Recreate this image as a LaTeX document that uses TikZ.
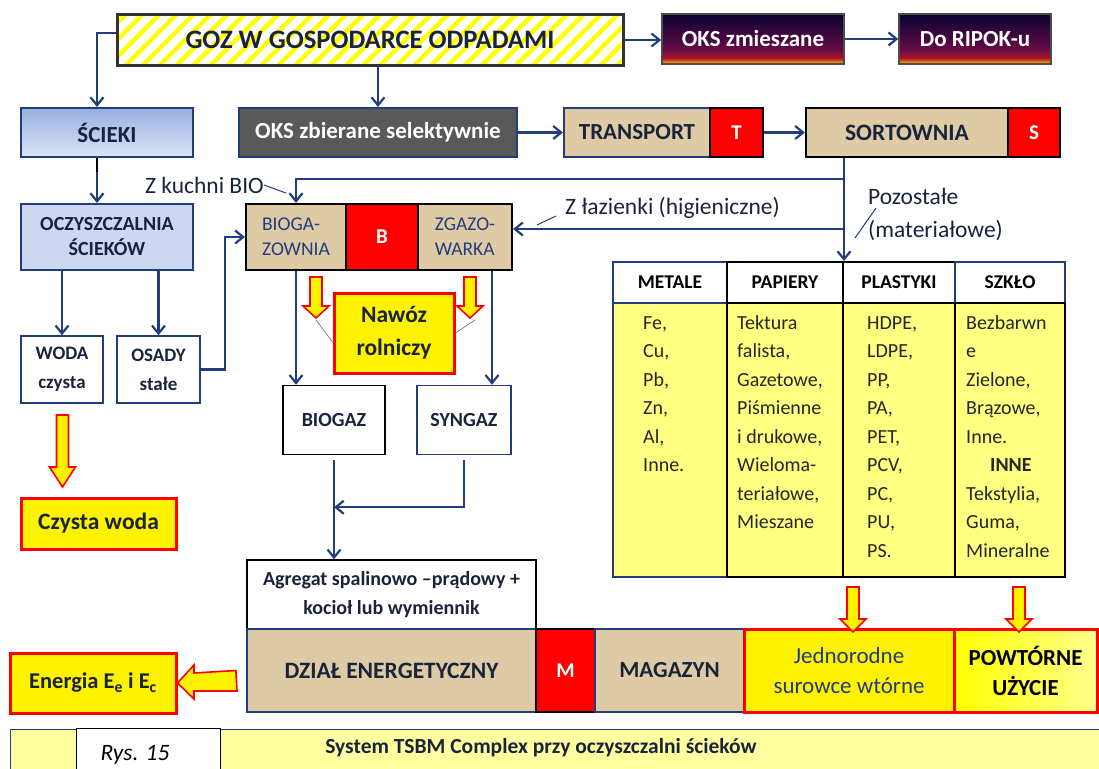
\documentclass[tikz,border=0pt]{standalone}
\usepackage{fontspec}
\setmainfont{Carlito}
\usetikzlibrary{arrows.meta,calc,patterns.meta}

\definecolor{navy}{RGB}{35,60,125}
\definecolor{ink}{RGB}{25,35,60}
\definecolor{beige}{RGB}{222,203,165}
\definecolor{paleyel}{RGB}{255,255,128}
\definecolor{barfill}{RGB}{255,255,160}
\definecolor{lilac}{RGB}{205,215,242}
\definecolor{slate}{RGB}{89,89,89}
\definecolor{dusknavy}{RGB}{8,4,50}
\definecolor{duskplum}{RGB}{100,10,70}
\definecolor{duskred}{RGB}{170,20,40}
\definecolor{duskorange}{RGB}{255,160,0}
\pgfdeclareverticalshading{dusk}{100bp}{color(0bp)=(duskorange); color(26bp)=(duskorange); color(31bp)=(duskred); color(40bp)=(duskplum); color(75bp)=(dusknavy); color(100bp)=(dusknavy)}

\newcommand\sz[2]{\fontsize{#1}{#2}\selectfont}
% x, top, tip, head length
\newcommand\fatdown[4]{%
  \filldraw[fatarrow] (#1-6,#2) -- (#1+6,#2) -- (#1+6,#3-#4) -- (#1+13,#3-#4) -- (#1,#3) -- (#1-13,#3-#4) -- (#1-6,#3-#4) -- cycle;}

\tikzset{
  box/.style={draw=navy, line width=1.5pt, inner sep=0pt, align=center, text=ink},
  flow/.style={draw=navy, line width=2.2pt, -{Straight Barb[length=8pt,width=13pt]}},
  beigebox/.style={box, draw=black, line width=2.2pt, fill=beige},
  redcell/.style={box, draw=black, line width=2.2pt, fill=red, text=white, font=\sz{21}{24}\bfseries},
  yelbox/.style={box, draw=red, line width=3pt, fill=yellow},
  fatarrow/.style={draw=red, line width=1.6pt, fill=yellow, line join=miter},
  hdr/.style={box, draw=black, line width=2pt, fill=white, font=\sz{19.5}{22}\bfseries, text=black},
  cell/.style={draw=black, line width=2pt, fill=paleyel, inner sep=0pt},
  celltext/.style={anchor=north west, inner sep=0pt, align=left, font=\sz{20}{28.5}, text=black!85},
  note/.style={inner sep=0pt, align=left, font=\sz{23.5}{33}, text=ink},
  leader/.style={draw=navy, line width=1pt}
}

\begin{document}
\begin{tikzpicture}[x=1pt, y=-1pt]
    \useasboundingbox (0,0) rectangle (1099,768);
    \clip (0,0) rectangle (1099,768);

    % top row
    \node[box, pattern={Lines[angle=45,distance=12pt,line width=4.5pt]}, pattern color=yellow, draw=black!80, line width=3pt,
          minimum width=506pt, minimum height=50pt, font=\sz{26.6}{30}\bfseries] (goz) at (370,40) {GOZ W GOSPODARCE ODPADAMI};
    \node[box, shade, shading=dusk, draw=black!70, minimum width=182pt, minimum height=50pt, text=white, font=\sz{23}{25}\bfseries] (oksmix) at (753,39) {OKS zmieszane};
    \node[box, shade, shading=dusk, draw=black!70, minimum width=152pt, minimum height=50pt, text=white, font=\sz{23}{25}\bfseries] (ripok) at (975,39) {Do RIPOK-u};

    % second row
    \node[box, line width=2pt, top color={rgb,255:red,150;green,175;blue,225}, bottom color={rgb,255:red,218;green,228;blue,246},
          minimum width=172pt, minimum height=49pt, font=\sz{23}{25}\bfseries] (scieki) at (107,132.5) {ŚCIEKI};
    \node[box, line width=2pt, fill=slate, text=white, minimum width=278pt, minimum height=49pt, font=\sz{23}{25}\bfseries] (okssel) at (378,132.5) {OKS zbierane selektywnie};
    \node[beigebox, draw=navy, minimum width=146pt, minimum height=49pt, font=\sz{23}{25}\bfseries] (transport) at (637,132.5) {TRANSPORT};
    \node[redcell, minimum width=53pt, minimum height=49pt] (tt) at (736.5,132.5) {T};
    \node[beigebox, minimum width=202pt, minimum height=49pt, font=\sz{23.5}{25}\bfseries] (sort) at (907,132.5) {SORTOWNIA};
    \node[redcell, minimum width=52pt, minimum height=49pt] (ss) at (1034,132.5) {S};

    % third row
    \node[box, line width=2pt, fill=lilac, minimum width=172pt, minimum height=66pt, font=\sz{20}{25}\bfseries] (oczysz) at (107,237) {OCZYSZCZALNIA\\ŚCIEKÓW};
    \node[beigebox, align=left, minimum width=100pt, minimum height=66pt, text=navy, font=\sz{19.5}{25}] (bioga) at (296,237) {BIOGA-\\ZOWNIA};
    \node[redcell, minimum width=72pt, minimum height=66pt] (bb) at (382,237) {B};
    \node[beigebox, align=left, minimum width=94pt, minimum height=66pt, text=navy, font=\sz{19.5}{25}] (zgazo) at (465,237) {ZGAZO-\\WARKA};

    \node[box, minimum width=82pt, minimum height=67pt, font=\sz{19}{29}\bfseries] (woda) at (62,369.5) {WODA\\czysta};
    \node[box, minimum width=83pt, minimum height=67pt, font=\sz{19}{29}\bfseries] (osady) at (158.5,369.5) {OSADY\\stałe};
    \node[yelbox, minimum width=120pt, minimum height=80pt, font=\sz{23.5}{33}\bfseries] (nawoz) at (394,333) {Nawóz\\rolniczy};
    \node[box, draw=black, minimum width=102pt, minimum height=69pt, font=\sz{20}{22}\bfseries] (biogaz) at (334,420) {BIOGAZ};
    \node[box, minimum width=94pt, minimum height=69pt, font=\sz{20}{22}\bfseries] (syngaz) at (464,420) {SYNGAZ};
    \node[yelbox, minimum width=155pt, minimum height=51pt, font=\sz{23.5}{26}\bfseries] (czysta) at (98.5,523.5) {Czysta woda};

    % bottom row
    \node[box, draw=black, fill=white, minimum width=289pt, minimum height=69pt, font=\sz{20}{29}\bfseries] (agregat) at (391.5,594.5) {Agregat spalinowo --prądowy +\\kocioł lub wymiennik};
    \node[beigebox, draw=navy, minimum width=289pt, minimum height=83pt, font=\sz{23.5}{25}\bfseries] (dzial) at (391.5,670.5) {DZIAŁ ENERGETYCZNY};
    \node[redcell, minimum width=59pt, minimum height=83pt] (mm) at (565.5,670.5) {M};
    \node[beigebox, draw=navy, line width=1.5pt, minimum width=149pt, minimum height=83pt, font=\sz{23}{25}\bfseries] (magazyn) at (669.5,670.5) {MAGAZYN};
    \node[yelbox, minimum width=210pt, minimum height=83pt, text=navy, font=\sz{23}{30}] (jedno) at (849,670.5) {Jednorodne\\surowce wtórne};
    \node[yelbox, left color=yellow, right color=yellow!45, minimum width=143pt, minimum height=83pt, text=black, font=\sz{23}{30}\bfseries] (powt) at (1025.5,670.5) {POWTÓRNE\\UŻYCIE};
    \node[yelbox, minimum width=166pt, minimum height=60pt, font=\sz{22.5}{25}\bfseries] (energia) at (93,683) {Energia E\textsubscript{e} i E\textsubscript{c}};

    % table of fractions
    \node[hdr, draw=navy, minimum width=114pt, minimum height=41pt] (metale) at (670,282.5) {METALE};
    \node[hdr, minimum width=116pt, minimum height=41pt] (papiery) at (785,282.5) {PAPIERY};
    \node[hdr, minimum width=112pt, minimum height=41pt] (plastyki) at (899,282.5) {PLASTYKI};
    \node[hdr, draw=navy, minimum width=110pt, minimum height=41pt] (szklo) at (1010,282.5) {SZKŁO};
    \node[cell, draw=navy, minimum width=114pt, minimum height=274pt] (mbody) at (670,440) {};
    \node[cell, minimum width=116pt, minimum height=274pt] (pbody) at (785,440) {};
    \node[cell, minimum width=112pt, minimum height=274pt] (lbody) at (899,440) {};
    \node[cell, minimum width=110pt, minimum height=274pt] (sbody) at (1010,440) {};
    \node[celltext] (mtext) at ([shift={(31pt,-7pt)}]mbody.north west) {\strut Fe,\\Cu,\\Pb,\\Zn,\\Al,\\Inne.};
    \node[celltext] (ptext) at ([shift={(11pt,-7pt)}]pbody.north west) {\strut Tektura\\falista,\\Gazetowe,\\Piśmienne\\i drukowe,\\Wieloma-\\teriałowe,\\Mieszane};
    \node[celltext] (ltext) at ([shift={(25pt,-7pt)}]lbody.north west) {\strut HDPE,\\LDPE,\\PP,\\PA,\\PET,\\PCV,\\PC,\\PU,\\PS.};
    \node[celltext] (stext) at ([shift={(12pt,-7pt)}]sbody.north west) {\strut Bezbarwn\\e\\Zielone,\\Brązowe,\\Inne.\\\hspace*{24pt}\textbf{INNE}\\Tekstylia,\\Guma,\\Mineralne};

    % labels
    \node[note, anchor=east] (kuchnia) at (264,185) {Z kuchni BIO};
    \draw[leader] (kuchnia.east) -- ++(22,8);
    \node[note, anchor=west] (lazienka) at (565,208) {Z łazienki (higieniczne)};
    \draw[leader] ([shift={(-9pt,-8pt)}]lazienka.west) -- ++(-19,9);
    \node[note, anchor=west] (pozost) at (868,214) {Pozostałe\\(materiałowe)};
    \draw[leader] ([shift={(8pt,6pt)}]pozost.west) -- ++(-21,30);

    % caption bar
    \node[draw=navy, fill=barfill, line width=1.2pt, minimum width=1100pt, minimum height=60pt, anchor=north west] (bar) at (10,729) {};
    \node[draw=black, fill=white, line width=1pt, minimum width=144pt, minimum height=50pt, anchor=north west] (rys) at (76,728) {};
    \node[inner sep=0pt, font=\sz{23.5}{25}\itshape, text=black] (rystxt) at (135,755) {Rys. 15};
    \node[inner sep=0pt, font=\sz{21.5}{24}\bfseries, text=ink] (systxt) at (541,748) {System TSBM Complex przy oczyszczalni ścieków};

    % connectors
    \coordinate (j1) at (843,179);
    \coordinate (j2) at (843,229);
    \draw[flow] ([yshift=7pt]goz.west) -| ([xshift=-10pt]scieki.north);
    \draw[flow] (okssel.north |- goz.south) -- (okssel.north);
    \draw[flow] (goz.east) -- (oksmix.west |- goz.east);
    \draw[flow] (oksmix) -- (ripok);
    \draw[flow] (okssel) -- (transport);
    \draw[flow] (tt) -- (sort);
    \draw[flow] ([xshift=-10pt]scieki.south) -- ([xshift=-10pt]oczysz.north);
    \draw[black, line width=2.5pt] ([xshift=-10pt]scieki.south) -- ++(0,14);
    \draw[flow] (papiery.north east |- sort.south) -- (papiery.north east);
    \draw[flow] (j1) -| (bioga.north);
    \draw[flow] (j2) -- (zgazo.east |- j2);
    \draw[flow] (woda.north |- oczysz.south) -- (woda.north);
    \draw[flow] (osady.north |- oczysz.south) -- (osady.north);
    \draw[flow] (osady.east) -- ++(24,0) |- (bioga.west);
    \draw[flow] (bioga.south) -- (bioga.south |- biogaz.north);
    \draw[flow] ([xshift=27pt]zgazo.south) -- ([xshift=27pt]zgazo.south |- syngaz.north);
    \draw[flow] ([yshift=-5pt]biogaz.south) -- (biogaz.south |- agregat.north);
    \draw[flow] ([yshift=-5pt]syngaz.south) |- ($(biogaz.south)!0.5!(biogaz.south |- agregat.north)$);

    % hollow arrows
    \fatdown{62.5}{415}{487}{20}
    \fatdown{316}{277}{318}{12}
    \fatdown{470}{277}{318}{12}
    \fatdown{853}{587}{632}{13}
    \fatdown{1019}{587}{632}{13}
    \filldraw[fatarrow] ([xshift=-10pt]dzial.west) -- (194,673) -- (194,665) -- (energia.east) -- (194,699) -- (194,691) -- (237,691) -- cycle;
    \coordinate (ltip) at (316,320);
    \coordinate (rtip) at (475,320);
    \draw[gray, line width=0.8pt] (ltip) -- ([yshift=-9pt]nawoz.west);
    \draw[gray, line width=0.8pt] (rtip) -- (nawoz.east);
\end{tikzpicture}
\end{document}
